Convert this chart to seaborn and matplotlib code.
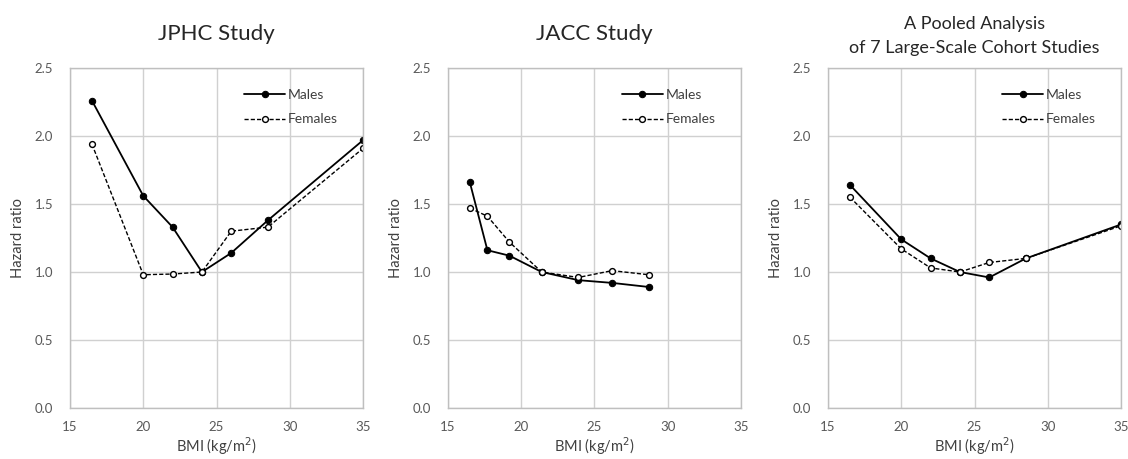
import numpy as np
import pandas as pd
import matplotlib
matplotlib.use("Agg")
import matplotlib.pyplot as plt
import seaborn as sns

# JPHC Study
jphc_bmi = [16.5, 20, 22, 24, 26, 28.5, 35]
jphc_males = [2.26, 1.56, 1.33, 1.00, 1.14, 1.38, 1.97]
jphc_females = [1.94, 0.98, 0.985, 1.00, 1.30, 1.33, 1.91]

# JACC Study
jacc_bmi = [16.5, 17.7, 19.2, 21.4, 23.9, 26.2, 28.7]
jacc_males = [1.66, 1.16, 1.12, 1.00, 0.94, 0.92, 0.89]
jacc_females = [1.47, 1.41, 1.22, 1.00, 0.96, 1.01, 0.98]

# Pooled analysis
pool_bmi = [16.5, 20, 22, 24, 26, 28.5, 35]
pool_males = [1.64, 1.24, 1.10, 1.00, 0.96, 1.10, 1.35]
pool_females = [1.55, 1.17, 1.03, 1.00, 1.07, 1.10, 1.34]

titles = ["JPHC Study", "JACC Study",
          "A Pooled Analysis\nof 7 Large-Scale Cohort Studies"]

sns.set_style("white")
plt.rcParams["font.family"] = ["Lato", "DejaVu Sans"]

fig = plt.figure(figsize=(11.28, 4.59), dpi=100)
lefts = [0.062, 0.397, 0.734]
panels = [(jphc_bmi, jphc_males, jphc_females),
          (jacc_bmi, jacc_males, jacc_females),
          (pool_bmi, pool_males, pool_females)]

for i, (bmi, males, females) in enumerate(panels):
    ax = fig.add_axes([lefts[i], 0.111, 0.260, 0.741])
    df = pd.DataFrame({"bmi": bmi, "Males": males, "Females": females})
    sns.lineplot(data=df, x="bmi", y="Males", ax=ax, color="black",
                 linewidth=1.3, marker="o", markersize=4.6,
                 markerfacecolor="black", markeredgecolor="black",
                 sort=False, label="Males")
    sns.lineplot(data=df, x="bmi", y="Females", ax=ax, color="black",
                 linewidth=1.0, linestyle=(0, (3, 1.5)), marker="o",
                 markersize=4.2, markerfacecolor="white",
                 markeredgecolor="black", markeredgewidth=1.0,
                 sort=False, label="Females")

    ax.set_xlim(15, 35)
    ax.set_ylim(0, 2.5)
    ax.set_xticks([15, 20, 25, 30, 35])
    ax.set_yticks(np.arange(0, 2.51, 0.5))
    ax.yaxis.set_major_formatter(matplotlib.ticker.FormatStrFormatter("%.1f"))
    ax.grid(True, color="#d0d0d0", linewidth=1.0)
    for sp in ax.spines.values():
        sp.set_color("#bfbfbf")
        sp.set_linewidth(1.0)
    ax.tick_params(axis="both", length=0, labelsize=9.5, colors="#595959")
    ax.tick_params(axis="y", pad=12)
    ax.tick_params(axis="x", pad=9)
    ax.set_xlabel("BMI (kg/m$^2$)", fontsize=10.5, color="#404040", labelpad=2)
    ax.set_ylabel("Hazard ratio", fontsize=10.5, color="#404040", labelpad=7)

    if i < 2:
        ax.set_title(titles[i], fontsize=16, color="#262626", pad=20)
    else:
        ax.set_title(titles[i], fontsize=13, color="#262626", pad=11,
                     linespacing=1.6)

    leg = ax.legend(loc="upper right", bbox_to_anchor=(0.955, 0.975),
                    frameon=False, fontsize=10, handlelength=2.9,
                    handletextpad=0.2, labelspacing=0.9)
    for t in leg.get_texts():
        t.set_color("#404040")

fig.savefig("out.png", dpi=100)
